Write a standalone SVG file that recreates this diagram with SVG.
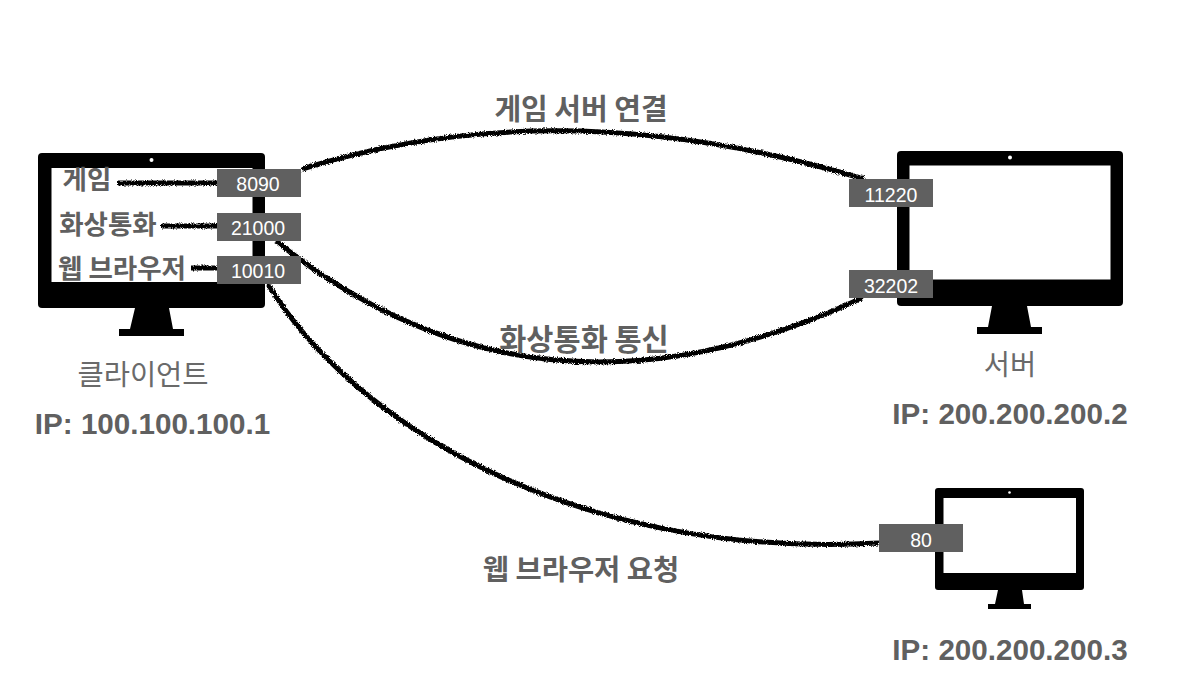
<svg xmlns="http://www.w3.org/2000/svg" width="1182" height="696" viewBox="0 0 1182 696">
<style>
.mon{fill:#000}
.scr{fill:#fff}
.port{fill:#606060}
.pt{fill:#fff;font-family:"Liberation Sans",Arial,sans-serif;font-size:19.5px;text-anchor:middle}
.k{fill:#606060;font-family:"Noto Sans CJK KR","Liberation Sans",sans-serif;font-weight:700;text-anchor:middle}
.kr{fill:#6a6a6a;font-family:"Noto Sans CJK KR","Liberation Sans",sans-serif;font-weight:400;font-size:28.500px;text-anchor:middle}
.ip{fill:#606060;font-family:"Liberation Sans",Arial,sans-serif;font-weight:700;font-size:29.600px;text-anchor:middle}
.c{fill:none;stroke:#000;stroke-width:5}
</style>
<defs>
<filter id="rough" filterUnits="userSpaceOnUse" x="0" y="0" width="1182" height="696" color-interpolation-filters="sRGB">
<feTurbulence type="fractalNoise" baseFrequency="1.1" numOctaves="2" seed="4" result="n"/>
<feDisplacementMap in="SourceGraphic" in2="n" scale="4" xChannelSelector="R" yChannelSelector="G"/>
</filter>
</defs>
<rect width="1182" height="696" fill="#fff"/>
<g id="client">
<rect class="mon" x="38" y="153" width="227" height="155" rx="4"/>
<rect class="scr" x="51.500" y="168" width="201" height="114"/>
<circle class="scr" cx="151.500" cy="160" r="2"/>
<path class="mon" d="M135 308H169L173 329H184V336H119V329H130Z"/>
<text class="kr" x="143" y="385">클라이언트</text>
<text class="ip" x="152.500" y="434">IP: 100.100.100.1</text>
</g>
<g id="server">
<rect class="mon" x="897" y="151" width="226" height="155" rx="4"/>
<rect class="scr" x="909.500" y="165.500" width="201" height="114"/>
<circle class="scr" cx="1010" cy="157.500" r="2"/>
<path class="mon" d="M992 306H1027L1031 327H1042V334H977V327H988Z"/>
<text class="kr" x="1010" y="375">서버</text>
<text class="ip" x="1010" y="424">IP: 200.200.200.2</text>
</g>
<g id="web-server">
<rect class="mon" x="935" y="488" width="149" height="102" rx="3"/>
<rect class="scr" x="943.500" y="498" width="132.500" height="75"/>
<circle class="scr" cx="1009.500" cy="492.500" r="1.300"/>
<path class="mon" d="M998 590H1022L1024 604H1031V609H988V604H995Z"/>
<text class="ip" x="1010" y="660">IP: 200.200.200.3</text>
</g>
<g id="connectors" filter="url(#rough)">
<path class="c" d="M117 183H217"/>
<path class="c" d="M161 226H217"/>
<path class="c" d="M191 268H217"/>
<path class="c" d="M302 169Q560 88 864 179"/>
<path class="c" d="M276 241Q536 450 862 298"/>
<path class="c" d="M268 284C350 420 570 560 879 543"/>
</g>
<g id="labels">
<text class="k" font-size="26.500" x="87" y="189">게임</text>
<text class="k" font-size="26.500" x="108" y="234">화상통화</text>
<text class="k" font-size="26.500" x="122" y="278">웹 브라우저</text>
<text class="k" font-size="29" x="581" y="120">게임 서버 연결</text>
<text class="k" font-size="29.500" x="584" y="350">화상통화 통신</text>
<text class="k" font-size="28.500" x="581" y="580">웹 브라우저 요청</text>
</g>
<g id="port-8090"><rect class="port" x="217" y="169" width="84" height="28"/><text class="pt" x="258" y="191">8090</text></g>
<g id="port-21000"><rect class="port" x="217" y="213" width="84" height="28"/><text class="pt" x="258" y="235">21000</text></g>
<g id="port-10010"><rect class="port" x="217" y="256" width="84" height="28"/><text class="pt" x="258" y="278">10010</text></g>
<g id="port-11220"><rect class="port" x="849" y="179" width="84" height="28"/><text class="pt" x="891" y="202">11220</text></g>
<g id="port-32202"><rect class="port" x="849" y="270" width="84" height="28"/><text class="pt" x="891" y="293">32202</text></g>
<g id="port-80"><rect class="port" x="879" y="524" width="84" height="28"/><text class="pt" x="921" y="547">80</text></g>
</svg>
